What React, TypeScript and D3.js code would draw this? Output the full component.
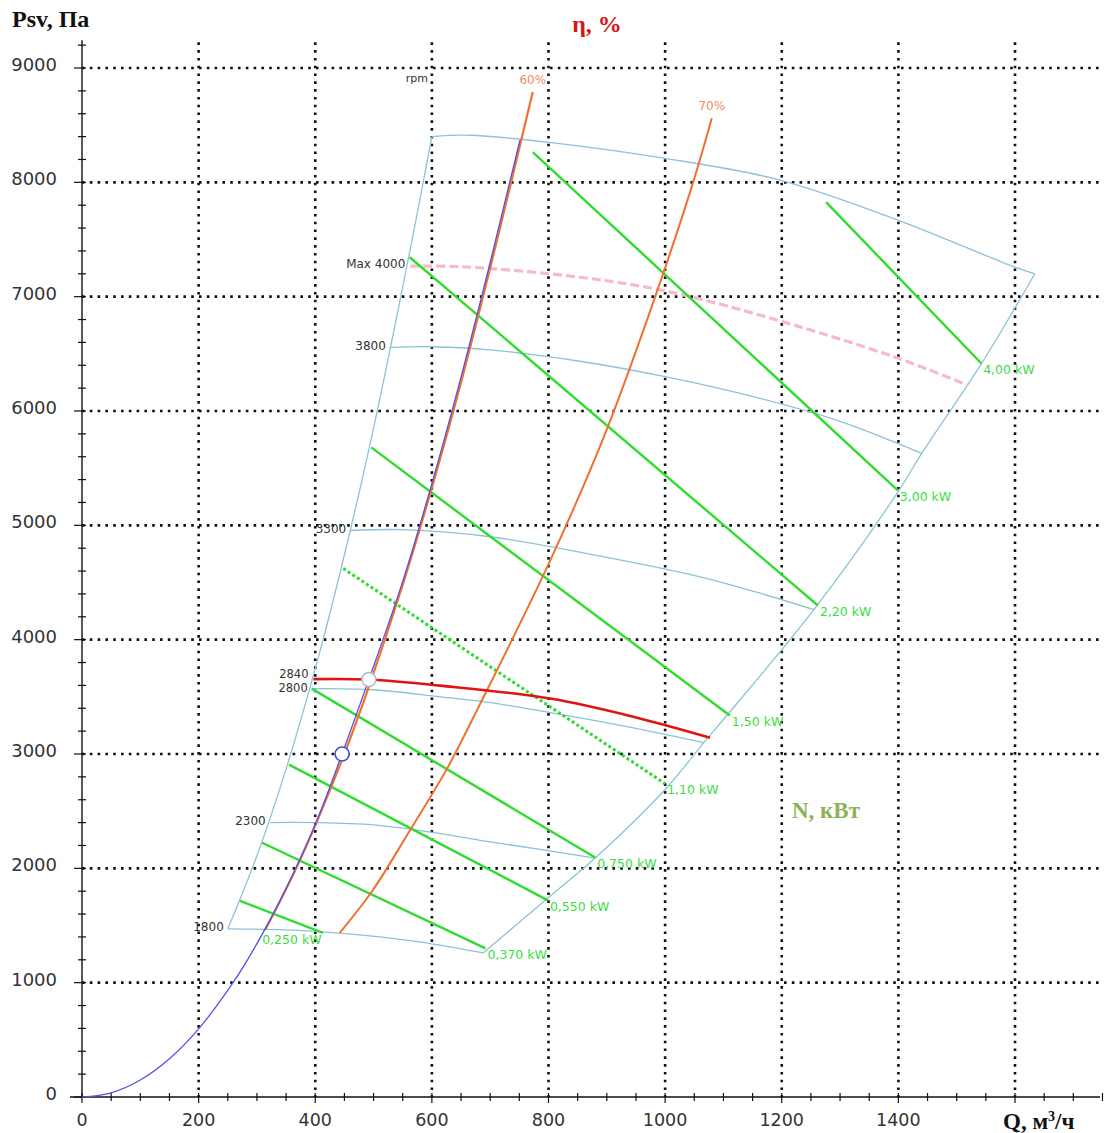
import React from 'react';
import * as d3 from 'd3';

type Pt = [number, number];

// ---------- data ----------
const xTickValues = [0, 200, 400, 600, 800, 1000, 1200, 1400];
const xGridValues = [200, 400, 600, 800, 1000, 1200, 1400, 1600];
const yTickValues = [0, 1000, 2000, 3000, 4000, 5000, 6000, 7000, 8000, 9000];
const yGridValues = [1000, 2000, 3000, 4000, 5000, 6000, 7000, 8000, 9000];

// system curve (blue)
const systemCurve: Pt[] = [
  [0, 0], [50, 37], [100, 149], [150, 335], [200, 596], [259, 1000], [300, 1341],
  [350, 1825], [400, 2384], [446, 3000], [492, 3651], [550, 4510], [600, 5365],
  [650, 6296], [700, 7301], [751, 8370],
];

// efficiency curves
const eta60: Pt[] = [
  [314, 1460], [370, 2030], [446, 2950], [492, 3590], [550, 4480], [600, 5330],
  [650, 6250], [712, 7500], [773, 8790],
];
const eta70: Pt[] = [
  [442, 1436], [498, 1804], [562, 2329], [626, 2872], [683, 3441], [803, 4693],
  [897, 5800], [983, 7000], [1048, 8000], [1080, 8560],
];
const etaLabels = ['60%', '70%'];

// envelope of the working field
const envLeft: Pt[] = [
  [250, 1471], [300, 2110], [350, 2870], [413, 3992], [460, 4955], [500, 5850],
  [566, 7495], [600, 8400],
];
const envTop: Pt[] = [
  [600, 8400], [665, 8412], [797, 8352], [997, 8212], [1197, 8020], [1399, 7670],
  [1600, 7258], [1634, 7200],
];
const envRight: Pt[] = [
  [688, 1260], [799, 1740], [880, 2090], [1000, 2690], [1068, 3110], [1108, 3350],
  [1255, 4262], [1399, 5290], [1440, 5630], [1542, 6410], [1634, 7200],
];

// rpm curves
const rpm1800: Pt[] = [[250, 1471], [350, 1462], [442, 1434], [511, 1400], [600, 1340], [688, 1260]];
const rpm2300: Pt[] = [[322, 2400], [400, 2400], [500, 2380], [600, 2315], [683, 2245], [780, 2170], [880, 2090]];
const rpm2800: Pt[] = [[394, 3572], [500, 3562], [614, 3500], [700, 3450], [803, 3362], [950, 3225], [1066, 3100]];
const rpm3300: Pt[] = [[460, 4955], [550, 4962], [700, 4900], [900, 4720], [1060, 4550], [1157, 4415], [1255, 4262]];
const rpm3800: Pt[] = [[528, 6557], [600, 6562], [700, 6535], [854, 6435], [1000, 6300], [1163, 6110], [1300, 5910], [1440, 5630]];
const rpmMax4000: Pt[] = [[563, 7267], [650, 7262], [854, 7170], [1000, 7050], [1163, 6838], [1400, 6461], [1519, 6225]];
const rpm2840: Pt[] = [[397, 3655], [492, 3651], [614, 3598], [803, 3485], [950, 3320], [1077, 3143]];
const rpmCurves = [rpm1800, rpm2300, rpm2800, rpm3300, rpm3800];
const rpmLabels = ['1800', '2300', '2800', '3300', '3800'];

// power lines
const powerLines: [Pt, Pt][] = [
  [[271, 1716], [413, 1436]],
  [[309, 2224], [692, 1300]],
  [[355, 2907], [799, 1720]],
  [[394, 3572], [880, 2095]],
  [[448, 4623], [1000, 2740]],
  [[496, 5682], [1111, 3336]],
  [[562, 7345], [1262, 4299]],
  [[773, 8265], [1399, 5306]],
  [[1276, 7827], [1542, 6418]],
];
const powerLabels = ['0,250 kW', '0,370 kW', '0,550 kW', '0,750 kW', '1,10 kW', '1,50 kW', '2,20 kW', '3,00 kW', '4,00 kW'];
const powerLabel250Anchor: Pt = [309, 1373];

// operating points
const opUpper: Pt = [492, 3651];
const opLower: Pt = [446, 3000];

// ---------- component ----------
export default function App() {
  const x = d3.scaleLinear().domain([0, 1600]).range([82, 1015]);
  const y = d3.scaleLinear().domain([0, 9000]).range([1097, 68]);

  const smooth = d3.line<Pt>().x(d => x(d[0])).y(d => y(d[1])).curve(d3.curveCatmullRom.alpha(0.5));
  const straight = d3.line<Pt>().x(d => x(d[0])).y(d => y(d[1]));

  const lightBlue = '#8cc3d6';
  const green = '#2fdc2f';
  const orange = '#f07030';
  const gridTop = y(9225);
  const axisRight = 1100;

  const xMinor = d3.range(0, 1751, 50);
  const yMinor = d3.range(0, 9201, 200);

  const tickFont = 'DejaVu Sans, Verdana, sans-serif';
  const serif = '"Liberation Serif", "Times New Roman", serif';

  return (
    <svg width={1104} height={1133} style={{ position: 'absolute', left: 0, top: 0, background: '#fff' }}
      xmlns="http://www.w3.org/2000/svg">
      <rect x={0} y={0} width={1104} height={1133} fill="#fff" />

      {/* grid */}
      {xGridValues.map(v => (
        <line key={'gx' + v} x1={x(v)} x2={x(v)} y1={gridTop} y2={y(0)} stroke="#111"
          strokeWidth={2.6} strokeDasharray="2.6 5.2" />
      ))}
      {yGridValues.map(v => (
        <line key={'gy' + v} x1={x(0)} x2={axisRight} y1={y(v)} y2={y(v)} stroke="#111"
          strokeWidth={2.6} strokeDasharray="2.6 5.2" />
      ))}

      {/* axes */}
      <line x1={x(0)} x2={x(0)} y1={y(0)} y2={gridTop - 2} stroke="#111" strokeWidth={1.4} />
      <line x1={70} x2={axisRight} y1={y(0)} y2={y(0)} stroke="#111" strokeWidth={1.4} />
      {yMinor.map(v => (
        <line key={'ym' + v} x1={v % 1000 === 0 ? x(0) - 8 : x(0) - 4} x2={x(0) + 4}
          y1={y(v)} y2={y(v)} stroke="#111" strokeWidth={1.2} />
      ))}
      {xMinor.map(v => (
        <line key={'xm' + v} x1={x(v)} x2={x(v)} y1={y(0) - 4} y2={y(0) + (v % 200 === 0 ? 6 : 4)}
          stroke="#111" strokeWidth={1.2} />
      ))}

      {/* tick labels */}
      {yTickValues.map(v => (
        <text key={'yl' + v} x={57} y={y(v) - 2} textAnchor="end" dominantBaseline="middle"
          fontFamily={tickFont} fontSize={18} fill="#333">{v}</text>
      ))}
      {xTickValues.map(v => (
        <text key={'xl' + v} x={x(v)} y={1121} textAnchor="middle" dominantBaseline="middle"
          fontFamily={tickFont} fontSize={17.5} fill="#333">{v}</text>
      ))}

      {/* axis titles */}
      <text x={12} y={27} fontFamily={serif} fontWeight="bold" fontSize={24} fill="#111">Psv, Па</text>
      <text x={597} y={32} textAnchor="middle" fontFamily={serif} fontWeight="bold" fontSize={24} fill="#d81515">η, %</text>
      <text x={1003} y={1129} fontFamily={serif} fontWeight="bold" fontSize={23} fill="#111">
        Q, м<tspan dy={-8} fontSize={14}>3</tspan><tspan dy={8}>/ч</tspan>
      </text>
      <text x={792} y={818} fontFamily={serif} fontWeight="bold" fontSize={23} fill="#8db356">N, кВт</text>

      {/* envelope and rpm curves */}
      <path d={smooth(envLeft) || ''} fill="none" stroke={lightBlue} strokeWidth={1.3} />
      <path d={smooth(envTop) || ''} fill="none" stroke={lightBlue} strokeWidth={1.3} />
      <path d={smooth(envRight) || ''} fill="none" stroke={lightBlue} strokeWidth={1.3} />
      {rpmCurves.map((c, i) => (
        <path key={'rpm' + i} d={smooth(c) || ''} fill="none" stroke={lightBlue} strokeWidth={1.3} />
      ))}
      <path d={smooth(rpmMax4000) || ''} fill="none" stroke="#f3bcc6" strokeWidth={3.2} strokeDasharray="9 4" />

      {/* power lines */}
      {powerLines.map((l, i) => (
        <path key={'pw' + i} d={straight(l) || ''} fill="none" stroke={green}
          strokeWidth={i === 4 ? 3 : 2.4} strokeDasharray={i === 4 ? '3 2.5' : undefined} />
      ))}

      {/* efficiency lines */}
      <path d={smooth(eta60) || ''} fill="none" stroke={orange} strokeWidth={2.2} />
      <path d={smooth(eta70) || ''} fill="none" stroke={orange} strokeWidth={2} />

      {/* system curve */}
      <path d={smooth(systemCurve) || ''} fill="none" stroke="#5252e6" strokeWidth={1.3} />

      {/* operating rpm */}
      <path d={smooth(rpm2840) || ''} fill="none" stroke="#e01212" strokeWidth={2.6} />

      {/* operating points */}
      <circle cx={x(opUpper[0])} cy={y(opUpper[1])} r={7} fill="#fff" stroke="#a9bccb" strokeWidth={1.5} />
      <circle cx={x(opLower[0])} cy={y(opLower[1])} r={7} fill="#fff" stroke="#4a4ae0" strokeWidth={1.6} />

      {/* rpm labels */}
      {rpmCurves.map((c, i) => (
        <text key={'rl' + i} x={x(c[0][0]) - 4} y={y(c[0][1]) - (i === 2 ? 0 : 1)} textAnchor="end" dominantBaseline="middle"
          fontFamily={tickFont} fontSize={i === 2 ? 11.5 : 12} fill="#333">{rpmLabels[i]}</text>
      ))}
      <text x={x(rpm2840[0][0]) - 5} y={y(rpm2840[0][1]) - 5} textAnchor="end" dominantBaseline="middle"
        fontFamily={tickFont} fontSize={11.5} fill="#333">2840</text>
      <text x={x(rpmMax4000[0][0]) - 5} y={y(rpmMax4000[0][1]) - 2} textAnchor="end" dominantBaseline="middle"
        fontFamily={tickFont} fontSize={12} fill="#333">Max 4000</text>
      <text x={x(envTop[0][0]) - 4} y={y(envTop[0][1]) - 58} textAnchor="end" dominantBaseline="middle"
        fontFamily={tickFont} fontSize={11} fill="#333">rpm</text>

      {/* efficiency labels */}
      <text x={x(eta60[eta60.length - 1][0])} y={y(eta60[eta60.length - 1][1]) - 12} textAnchor="middle"
        dominantBaseline="middle" fontFamily={tickFont} fontSize={12} fill="#f08a66">{etaLabels[0]}</text>
      <text x={x(eta70[eta70.length - 1][0])} y={y(eta70[eta70.length - 1][1]) - 12} textAnchor="middle"
        dominantBaseline="middle" fontFamily={tickFont} fontSize={12} fill="#f08a66">{etaLabels[1]}</text>

      {/* power labels */}
      {powerLines.map((l, i) => {
        const a: Pt = i === 0 ? powerLabel250Anchor : l[1];
        return (
          <text key={'pl' + i} x={x(a[0]) + (i === 0 ? 0 : 2)} y={y(a[1]) + (i === 0 ? 0 : 7)}
            dominantBaseline="middle" fontFamily={tickFont} fontSize={12.5} fill="#3ddc45">{powerLabels[i]}</text>
        );
      })}
    </svg>
  );
}
